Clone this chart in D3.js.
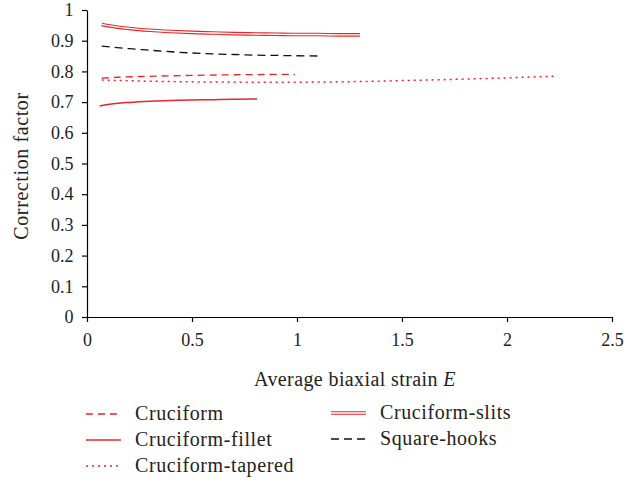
<!DOCTYPE html>
<html><head><meta charset="utf-8">
<script src="https://cdn.jsdelivr.net/npm/d3@7"></script>
<style>body{margin:0;background:#fff}svg{display:block}text{font-family:"Liberation Serif","DejaVu Serif",Times,serif;fill:#222}</style>
</head><body>
<script>
const xTicks = [0,0.5,1,1.5,2,2.5];
const yTicks = [0,0.1,0.2,0.3,0.4,0.5,0.6,0.7,0.8,0.9,1];
const slitsX = [0.07,0.1,0.2,0.3,0.4,0.5,0.6,0.7,0.8,0.9,1.0,1.1,1.2,1.3];
const slitsY = [0.953,0.949,0.940,0.934,0.930,0.927,0.925,0.923,0.922,0.921,0.920,0.920,0.919,0.919];
const hooksX = [0.07,0.2,0.3,0.4,0.5,0.6,0.7,0.8,0.9,1.0,1.12];
const hooksY = [0.882,0.874,0.869,0.864,0.860,0.857,0.855,0.853,0.852,0.851,0.850];
const crucX = [0.07,0.15,0.3,0.5,0.7,0.9,0.99];
const crucY = [0.778,0.781,0.784,0.787,0.789,0.790,0.790];
const taperX = [0.07,0.3,0.5,0.8,1.0,1.3,1.5,1.8,2.0,2.24];
const taperY = [0.772,0.768,0.766,0.765,0.765,0.767,0.770,0.775,0.779,0.785];
const filletX = [0.06,0.1,0.2,0.3,0.4,0.5,0.6,0.7,0.81];
const filletY = [0.687,0.692,0.699,0.703,0.705,0.707,0.708,0.709,0.710];
const names = ["Cruciform","Cruciform-fillet","Cruciform-tapered","Cruciform-slits","Square-hooks"];

const W=642,H=483;
const FF='"Liberation Serif","DejaVu Serif",Times,serif';
const svg=d3.select("body").append("svg").attr("width",W).attr("height",H);
const x=d3.scaleLinear().domain([0,2.5]).range([87,612]);
const y=d3.scaleLinear().domain([0,1]).range([317,10]);

const xa=svg.append("g").attr("transform","translate(0,317)").call(d3.axisBottom(x).tickValues(xTicks).tickSize(5).tickSizeOuter(0).tickFormat(d3.format("")));
const ya=svg.append("g").attr("transform","translate(87,0)").call(d3.axisLeft(y).tickValues(yTicks).tickSize(5).tickSizeOuter(0).tickFormat(d3.format("")));
[xa,ya].forEach(a=>{a.attr("font-family",FF);a.select(".domain").attr("stroke","#000").attr("stroke-width",1.2);a.selectAll(".tick line").attr("stroke","#000").attr("stroke-width",1.2);a.selectAll("text").attr("font-size",18).attr("fill","#222").attr("font-family",FF);});
xa.selectAll("text").attr("dy","1.15em");
ya.selectAll("text").attr("dx","-0.3em");

svg.append("text").attr("x",355).attr("y",386).attr("text-anchor","middle").attr("font-size",20).attr("letter-spacing","0.4")
  .html('Average biaxial strain <tspan font-style="italic">E</tspan>');
svg.append("text").attr("transform","translate(28,166) rotate(-90)").attr("text-anchor","middle").attr("font-size",20).attr("letter-spacing","0.6").text("Correction factor");

const line=d3.line().x(d=>x(d[0])).y(d=>y(d[1])).curve(d3.curveMonotoneX);
const zip=(a,b)=>a.map((v,i)=>[v,b[i]]);
const red="#e8262a";
const styles={
 "Cruciform":{data:zip(crucX,crucY),color:red,dash:"7,5",w:1.3},
 "Cruciform-fillet":{data:zip(filletX,filletY),color:red,dash:null,w:1.5},
 "Cruciform-tapered":{data:zip(taperX,taperY),color:red,dash:"2,4",w:1.5},
 "Cruciform-slits":{data:zip(slitsX,slitsY),color:red,dash:null,w:1.3,dbl:true},
 "Square-hooks":{data:zip(hooksX,hooksY),color:"#111",dash:"8,5",w:1.3}
};
function drawLine(g,d,s){
  if(s.dbl){
    g.append("path").attr("d",d).attr("fill","none").attr("stroke",s.color).attr("stroke-width",3.6);
    g.append("path").attr("d",d).attr("fill","none").attr("stroke","#fff").attr("stroke-width",1.4);
  } else {
    g.append("path").attr("d",d).attr("fill","none").attr("stroke",s.color).attr("stroke-width",s.w).attr("stroke-dasharray",s.dash);
  }
}
names.forEach(n=>drawLine(svg,line(styles[n].data),styles[n]));

const legPos={"Cruciform":[86,414],"Cruciform-fillet":[86,440],"Cruciform-tapered":[86,466],"Cruciform-slits":[331,413],"Square-hooks":[331,439]};
names.forEach(n=>{
  const [lx,ly]=legPos[n];
  drawLine(svg,`M${lx},${ly}L${lx+35},${ly}`,styles[n]);
  svg.append("text").attr("x",lx+49).attr("y",ly+6).attr("font-size",20).attr("letter-spacing","0.6").text(n);
});
</script>
</body></html>
